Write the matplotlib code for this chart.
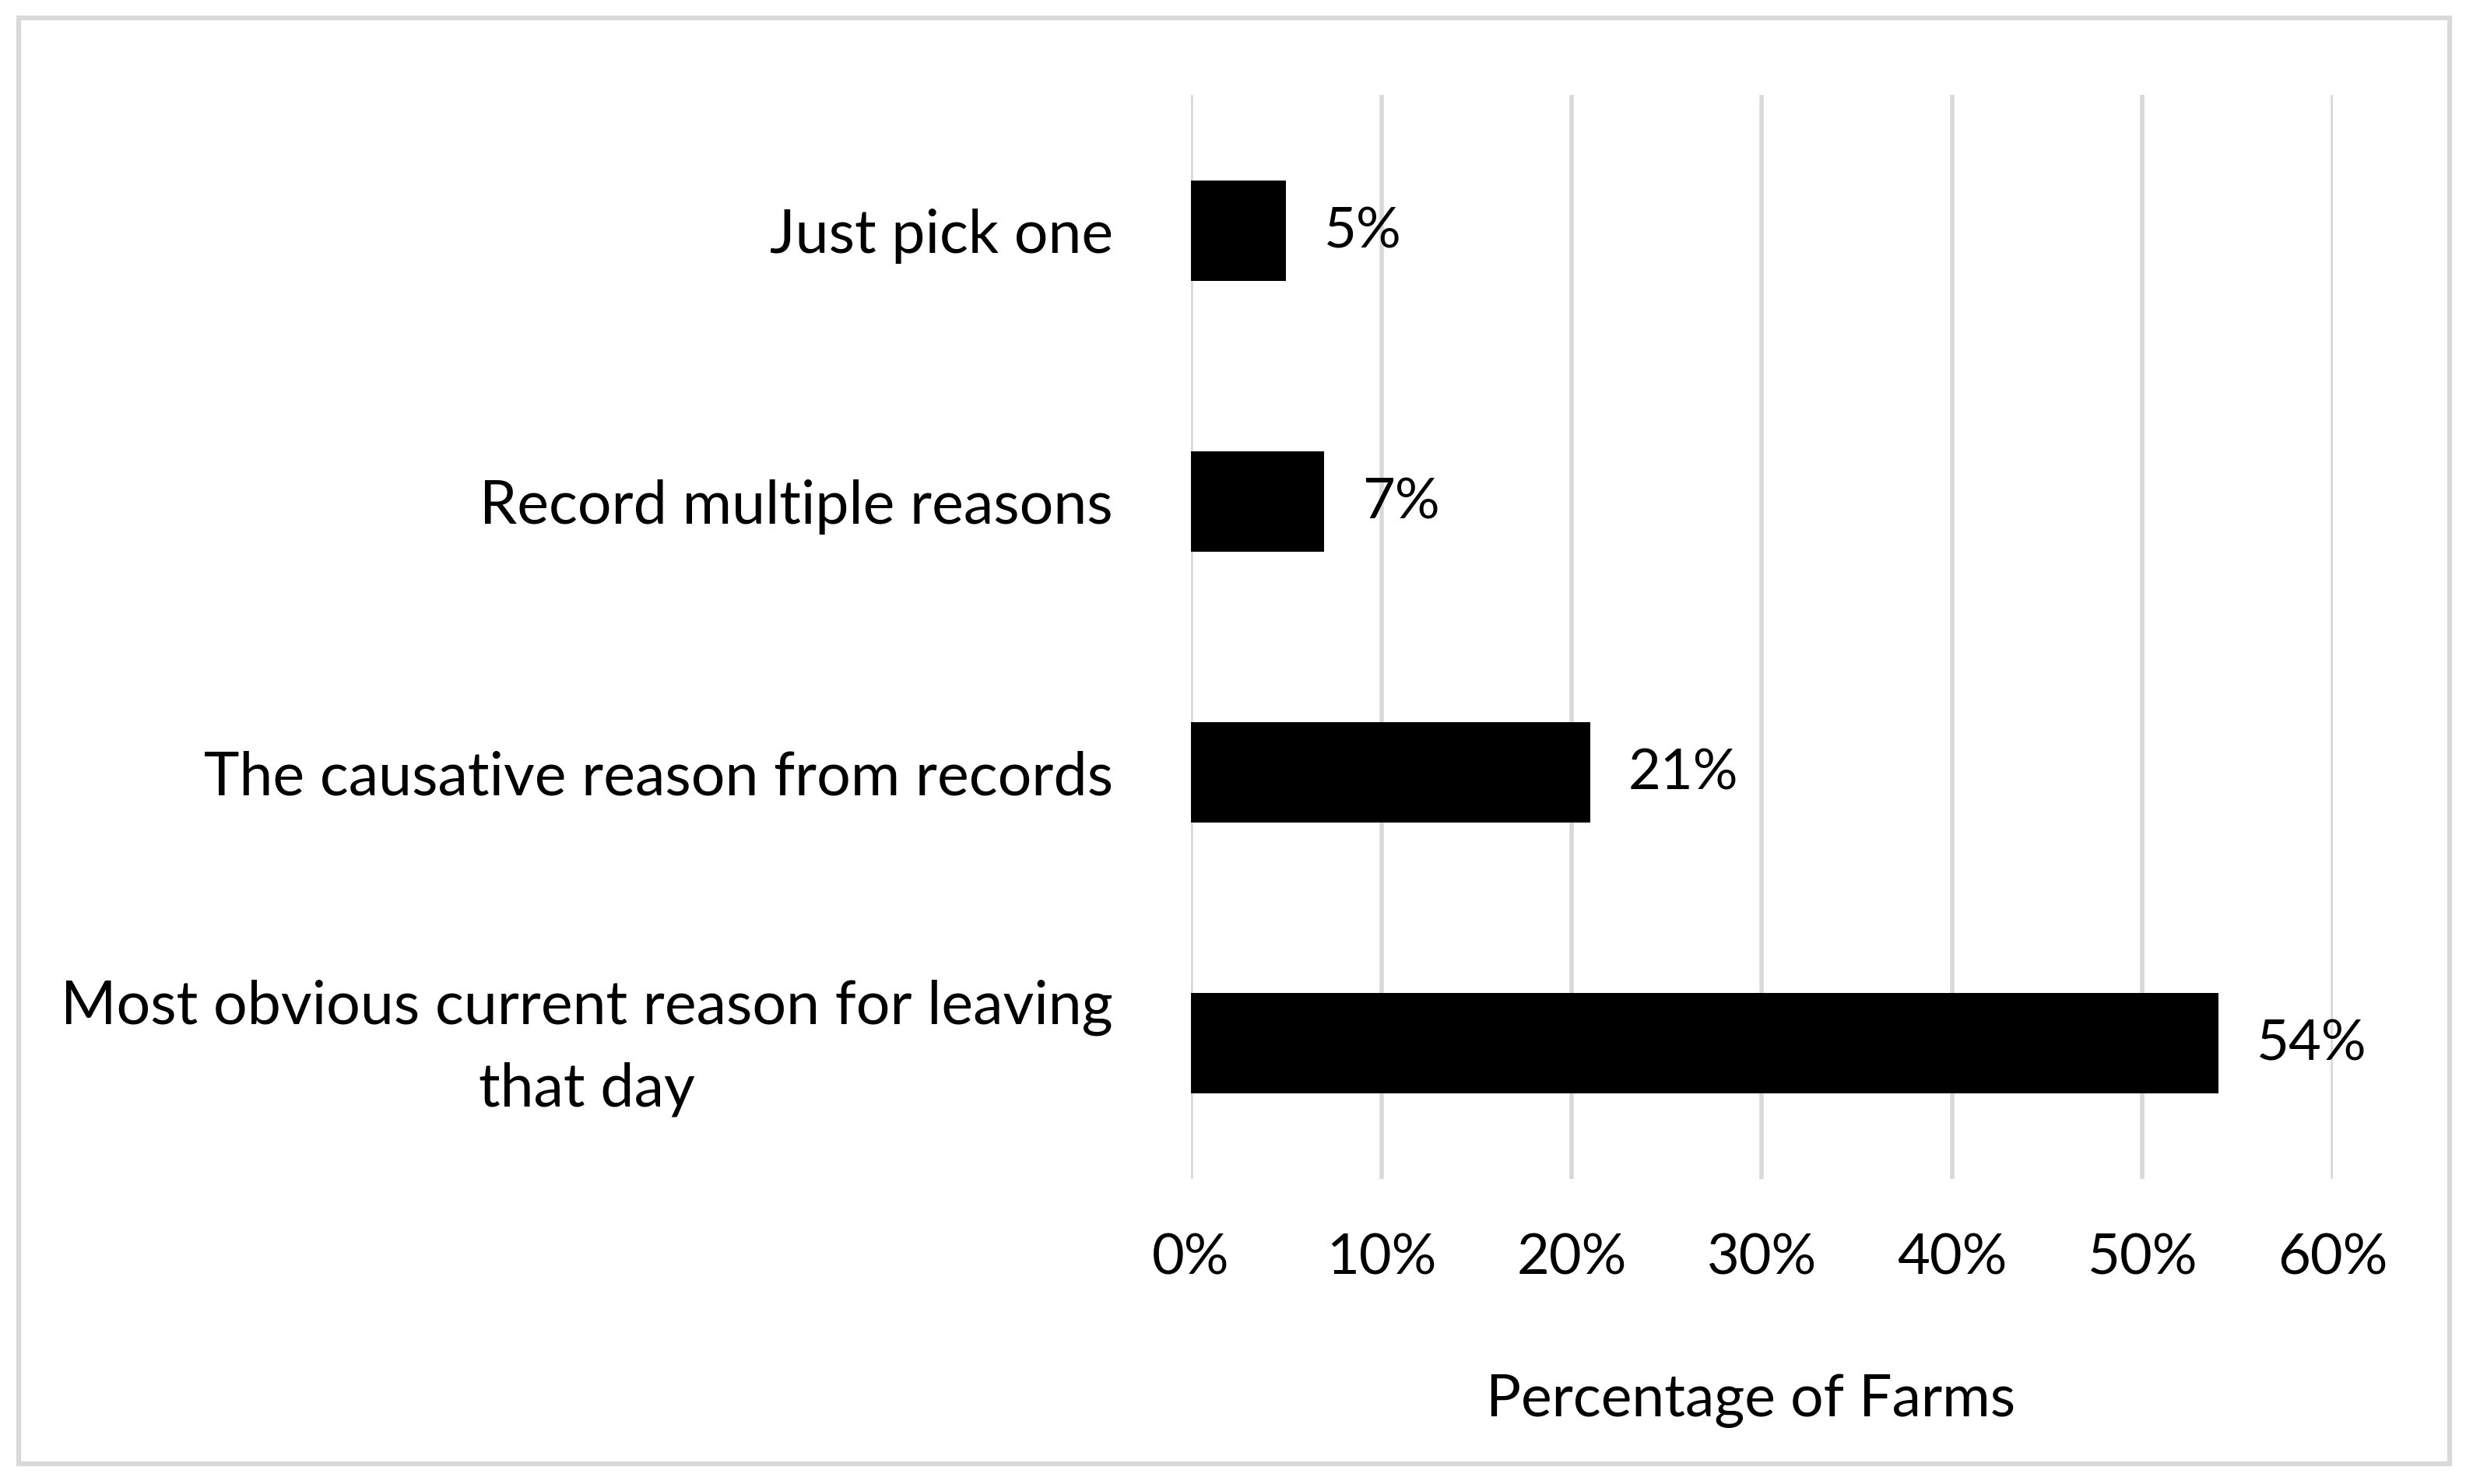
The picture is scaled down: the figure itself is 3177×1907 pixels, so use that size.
import matplotlib.pyplot as plt
from matplotlib.patches import Rectangle
from matplotlib.transforms import ScaledTranslation

# dados
categorias = ['Most obvious current reason for leaving\nthat day',
              'The causative reason from records',
              'Record multiple reasons',
              'Just pick one']
percentuais = [54, 21, 7, 5]
ticks_x = [0, 10, 20, 30, 40, 50, 60]
rotulo_x = 'Percentage of Farms'

plt.rcParams['font.family'] = ['Lato', 'DejaVu Sans']

fig = plt.figure(figsize=(31.77, 19.07), dpi=100)
ax = fig.add_axes([0.4816, 0.2056, 0.9433 - 0.4816, 0.936 - 0.2056])

y = list(range(len(categorias)))
ax.barh(y, percentuais, height=0.37, color='black', zorder=3)

for yi, v in zip(y, percentuais):
    ax.annotate(f'{v}%', (v, yi), xytext=(35, -1), textcoords='offset points',
                va='center', ha='left', fontsize=52)

ax.set_xlim(0, 60)
ax.set_ylim(-0.5, len(categorias) - 0.5)
ax.set_xticks(ticks_x)
ax.set_xticklabels([f'{t}%' for t in ticks_x], fontsize=52)
ax.set_yticks(y)
ax.set_yticklabels([])

# rótulos das categorias desenhados à mão, para poder ajustar o de duas linhas
for yi, cat in zip(y, categorias):
    dy = 0.18 if '\n' in cat else 0.0
    tr = ax.get_yaxis_transform() + ScaledTranslation(-1.0, dy, fig.dpi_scale_trans)
    ax.text(0, yi, cat, transform=tr, ha='right', va='center_baseline',
            multialignment='center', linespacing=1.6, fontsize=55.5)

ax.tick_params(axis='both', length=0)
ax.tick_params(axis='x', pad=50)
ax.grid(axis='x', color='#d9d9d9', linewidth=4, zorder=0)
for s in ax.spines.values():
    s.set_visible(False)

fig.text(0.708, 1 - 1800 / 1907, rotulo_x, ha='center', va='center', fontsize=54)

# moldura em volta da figura
fig.patches.append(Rectangle((24 / 3177, 26 / 1907), (3147 - 24) / 3177, (1884 - 26) / 1907,
                             transform=fig.transFigure, fill=False,
                             edgecolor='#d9d9d9', linewidth=4.5))

fig.savefig('out.png', dpi=100)
